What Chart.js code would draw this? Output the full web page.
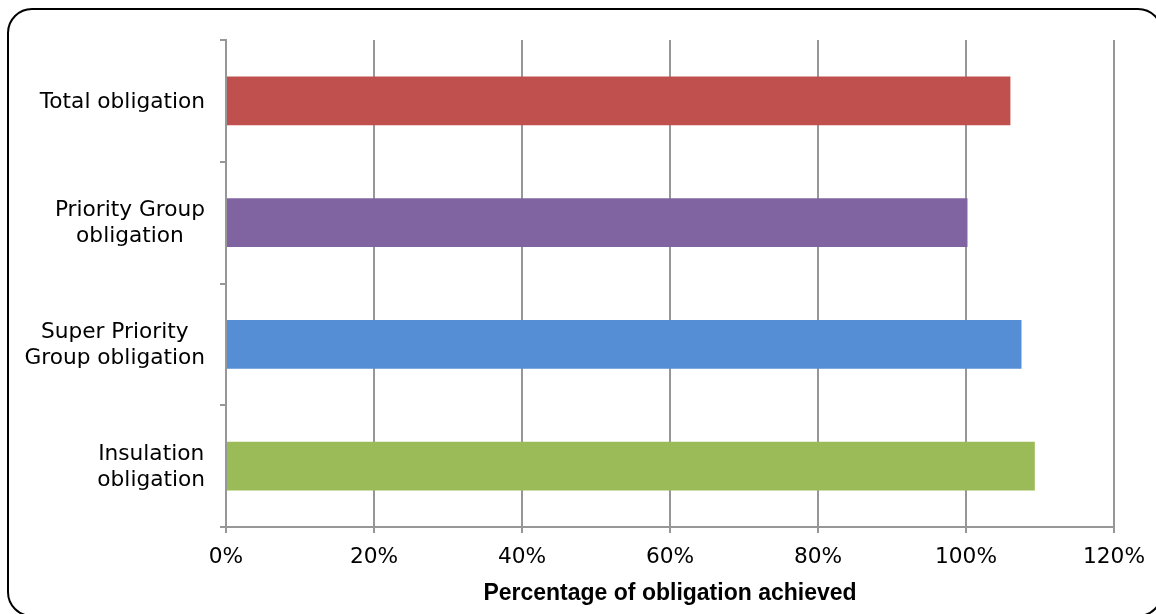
<!DOCTYPE html>
<html>
<head>
<meta charset="utf-8">
<script src="https://cdn.jsdelivr.net/npm/chart.js@4"></script>
<style>
html, body { margin: 0; padding: 0; background: #fff; overflow: hidden; }
#wrap { position: relative; width: 1156px; height: 614px; }
#frame { position: absolute; left: 7px; top: 8px; width: 1156px; height: 609px; border: 2px solid #000; border-radius: 25px; box-sizing: border-box; }
canvas { position: absolute; left: 0; top: 0; }
</style>
</head>
<body>
<div id="wrap">
<div id="frame"></div>
<canvas id="chart" width="1156" height="614"></canvas>
</div>
<script>
// data
var labels_obligation = [
	["Total obligation"],
	["Priority Group", "obligation"],
	["Super Priority", "Group obligation"],
	["Insulation", "obligation"],
];
var data_achieved = [106.0, 100.2, 107.5, 109.3];
var bar_colors = ["#C0504D", "#8064A2", "#558ED5", "#9BBB59"];
var x_ticks = [0, 20, 40, 60, 80, 100, 120];

var labelFont = "21.7px 'DejaVu Sans'";

// y labels: each label's lines centred on its widest line, right aligned to the ticks
var centeredLabels = {
	id: "centeredLabels",
	afterDraw: function (chart) {
		var y = chart.scales.y;
		var c = chart.ctx;
		c.save();
		c.font = labelFont;
		c.fillStyle = "#000";
		c.textAlign = "center";
		c.textBaseline = "middle";
		var right = y.right - 6 - 15;
		var lh = 26;
		labels_obligation.forEach(function (lines, i) {
			var w = 0;
			lines.forEach(function (l) { w = Math.max(w, c.measureText(l).width); });
			var cy = y.getPixelForTick(i) + 1;
			var y0 = cy - (lines.length - 1) * lh / 2;
			lines.forEach(function (l, j) {
				c.fillText(l, right - w / 2, y0 + j * lh);
			});
		});
		c.restore();
	},
};

var ctx = document.getElementById("chart").getContext("2d");
var myChart = new Chart(ctx, {
	type: "bar",
	data: {
		labels: labels_obligation.map(function (l) { return l.join(" "); }),
		datasets: [
			{
				label: "Percentage of obligation achieved",
				data: data_achieved,
				backgroundColor: bar_colors,
				categoryPercentage: 1,
				barPercentage: 0.4,
			},
		],
	},
	options: {
		indexAxis: "y",
		responsive: false,
		animation: false,
		layout: { padding: { top: 40, right: 42, left: 0, bottom: 0 } },
		plugins: { legend: { display: false }, tooltip: { enabled: false } },
		scales: {
			x: {
				min: 0,
				max: 120,
				afterBuildTicks: function (scale) {
					scale.ticks = x_ticks.map(function (v) { return { value: v }; });
				},
				afterFit: function (scale) { scale.height = 87; },
				grid: { color: "#979797", lineWidth: 2, tickLength: 6 },
				border: { color: "#979797", width: 2 },
				ticks: {
					color: "#000",
					font: { family: "DejaVu Sans", size: 21.7 },
					padding: 11,
					maxRotation: 0,
					callback: function (v) { return v + "%"; },
				},
				title: {
					display: true,
					text: "Percentage of obligation achieved",
					color: "#000",
					font: { family: "Liberation Sans", size: 23, weight: "bold" },
					padding: { top: 0, bottom: 7 },
				},
			},
			y: {
				afterFit: function (scale) { scale.width = 226; },
				grid: { offset: true, drawOnChartArea: false, color: "#979797", lineWidth: 2, tickLength: 6 },
				border: { color: "#979797", width: 2 },
				ticks: { display: false },
			},
		},
	},
	plugins: [centeredLabels],
});
</script>
</body>
</html>
